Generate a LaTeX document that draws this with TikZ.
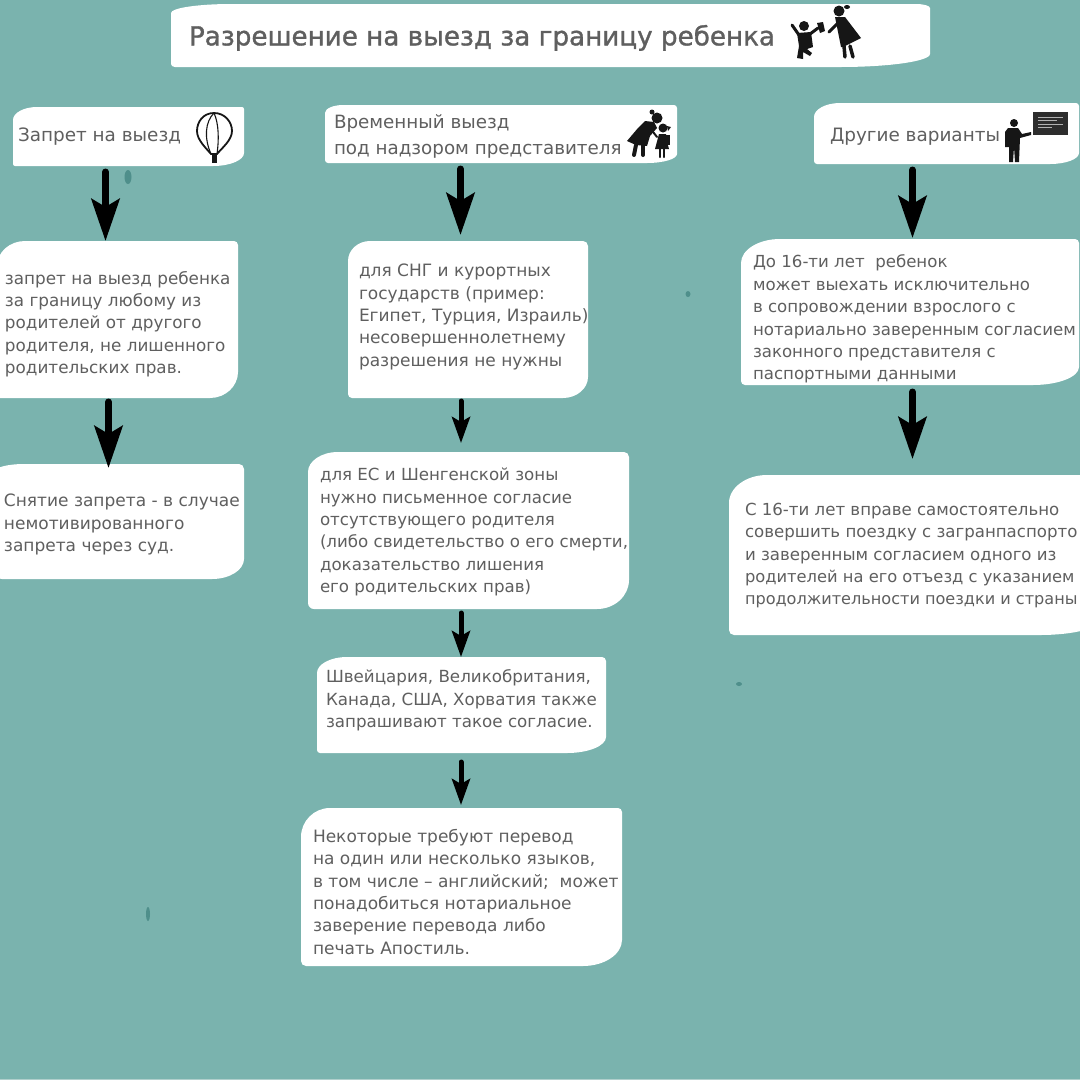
\documentclass[tikz,border=0pt]{standalone}
\usepackage{fontspec}
\setmainfont{DejaVu Sans}
\newfontfamily\titlefont[FakeBold=1.2]{DejaVu Sans}
\usetikzlibrary{arrows.meta}
\definecolor{bgteal}{HTML}{7AB3AE}
\definecolor{inktext}{HTML}{5F5F5F}
\definecolor{spotteal}{HTML}{4F8F8B}
\definecolor{iconink}{HTML}{161616}
\definecolor{edgestrip}{HTML}{B0CFCC}
\newcommand{\fsz}[1]{\fontsize{#1}{22.4}\selectfont}
\tikzset{
  x=1pt,y=-1pt,
  boxnode/.style={inner sep=0pt,outer sep=0pt,anchor=north west},
  txt/.style={inner sep=0pt,outer sep=0pt,anchor=north west,align=left,text=inktext,
     font=\fsz{16.8},yshift=12pt},
  hdr/.style={txt,font=\fontsize{18.4}{26}\selectfont},
  bigarr/.style={line width=7pt,line cap=round,-{Stealth[length=42pt,width=28pt,inset=8pt]}},
  smallarr/.style={line width=5pt,line cap=round,-{Stealth[length=26pt,width=18pt,inset=5pt]}},
  ico/.style={fill=iconink,draw=none},
  icoline/.style={draw=iconink,line cap=round,line join=round},
  spot/.style={fill=spotteal,draw=none},
}
% corner radii: tl rx,ry  tr rx,ry  br rx,ry  bl rx,ry
\newcommand{\setrad}[8]{\def\tlx{#1}\def\tly{#2}\def\trx{#3}\def\try{#4}\def\brx{#5}\def\bry{#6}\def\blx{#7}\def\bly{#8}}
% name, x0,y0,x1,y1
\newcommand{\whitebox}[5]{%
  \pgfmathsetmacro{\bw}{#4-#2}\pgfmathsetmacro{\bh}{#5-#3}%
  \fill[white] ({#2+\tlx},#3) -- ({#4-\trx},#3)
     .. controls ({#4-0.45*\trx},#3) and (#4,{#3+0.45*\try}) .. (#4,{#3+\try})
     -- (#4,{#5-\bry})
     .. controls (#4,{#5-0.45*\bry}) and ({#4-0.45*\brx},#5) .. ({#4-\brx},#5)
     -- ({#2+\blx},#5)
     .. controls ({#2+0.45*\blx},#5) and (#2,{#5-0.45*\bly}) .. (#2,{#5-\bly})
     -- (#2,{#3+\tly})
     .. controls (#2,{#3+0.45*\tly}) and ({#2+0.45*\tlx},#3) .. ({#2+\tlx},#3) -- cycle;%
  \node[boxnode,minimum width=\bw pt,minimum height=\bh pt] (#1) at (#2,#3) {};%
}
\newcommand{\strutT}{\rule{0pt}{12pt}}
\begin{document}
\begin{tikzpicture}
\useasboundingbox (0,0) rectangle (1080,1080);
\fill[bgteal] (0,0) rectangle (1080,1080);
\fill[edgestrip] (0,1078.5) rectangle (1080,1080);
% specks
\fill[spot] (128,177) ellipse [x radius=3.5pt,y radius=7pt];
\fill[spot] (148,914) ellipse [x radius=2pt,y radius=7pt];
\fill[spot] (688,294) ellipse [x radius=2.5pt,y radius=3pt];
\fill[spot] (739,684) ellipse [x radius=3pt,y radius=2pt];
% boxes
\setrad{60}{9}{14}{4}{90}{13}{4}{3}\whitebox{title}{171}{4}{930}{67}
\setrad{24}{13}{2}{2}{31}{13}{2}{2}\whitebox{a0}{13}{107}{244}{166}
\setrad{28}{25}{4}{4}{28}{26}{3}{3}\whitebox{a1}{-3}{241}{238}{398}
\setrad{30}{8}{5}{5}{32}{20}{8}{8}\whitebox{a2}{-6}{464}{244}{579}
\setrad{18}{8}{3}{3}{30}{9}{3}{3}\whitebox{b0}{325}{105}{677}{163}
\setrad{22}{20}{5}{5}{25}{21}{4}{4}\whitebox{b1}{348}{241}{588}{398}
\setrad{30}{20}{5}{5}{32}{29}{6}{6}\whitebox{b2}{308}{452}{629}{609}
\setrad{30}{16}{4}{4}{39}{16}{3}{3}\whitebox{b3}{317}{657}{606}{753}
\setrad{29}{29}{4}{4}{39}{26}{5}{5}\whitebox{b4}{301}{808}{622}{966}
\setrad{26}{14}{3}{3}{29}{11}{3}{3}\whitebox{c0}{814}{103}{1079}{164}
\setrad{39}{24}{4}{4}{46}{18}{4}{4}\whitebox{c1}{741}{239}{1079}{385}
\setrad{38}{28}{4}{4}{60}{15}{5}{5}\whitebox{c2}{729}{475}{1100}{635}
% texts
\node[txt,font=\titlefont\fontsize{26.2}{30}\selectfont,text=inktext] (titlet) at (189,37) {\strutT Разрешение на выезд за границу ребенка};
\node[hdr] (a0t) at (18,140) {\strutT Запрет на выезд};
\node[txt] (a1t) at (5,283) {\strutT запрет на выезд ребенка\\за границу любому из\\родителей от другого\\родителя, не лишенного\\родительских прав.};
\node[txt,font=\fsz{17}] (a2t) at (4,506) {\strutT Снятие запрета - в случае\\немотивированного\\запрета через суд.};
\node[hdr,font=\fontsize{18.3}{26}\selectfont] (b0t) at (334,127) {\strutT Временный выезд\\под надзором представителя};
\node[txt,font=\fsz{17}] (b1t) at (359,276) {\strutT для СНГ и курортных\\государств (пример:\\Египет, Турция, Израиль)\\несовершеннолетнему\\разрешения не нужны};
\node[txt,font=\fsz{16.65}] (b2t) at (320,480) {\strutT для ЕС и Шенгенской зоны\\нужно письменное согласие\\отсутствующего родителя\\(либо свидетельство о его смерти,\\доказательство лишения\\его родительских прав)};
\node[txt,font=\fsz{16.7}] (b3t) at (326,682) {\strutT Швейцария, Великобритания,\\Канада, США, Хорватия также\\запрашивают такое согласие.};
\node[txt,font=\fsz{17}] (b4t) at (313,841) {\strutT Некоторые требуют перевод\\на один или несколько языков,\\в том числе – английский;\ \ может\\понадобиться нотариальное\\заверение перевода либо\\печать Апостиль.};
\node[hdr] (c0t) at (830,140) {\strutT Другие варианты};
\node[txt,font=\fsz{16.6}] (c1t) at (753,267) {\strutT До 16-ти лет\ \ ребенок\\может выехать исключительно\\в сопровождении взрослого с\\нотариально заверенным согласием\\законного представителя с\\паспортными данными};
\node[txt,font=\fsz{16.6}] (c2t) at (745,515) {\strutT С 16-ти лет вправе самостоятельно\\совершить поездку с загранпаспорто\\и заверенным согласием одного из\\\fsz{16.3}родителей на его отъезд с указанием\\\fsz{16.1}продолжительности поездки и страны};
% arrows
\draw[bigarr] ([xshift=-23pt,yshift=-6pt]a0.south) -- ([xshift=-12pt]a1.north);
\draw[bigarr] ([xshift=-9pt,yshift=-4pt]a1.south) -- ([xshift=-10.5pt,yshift=-4pt]a2.north);
\draw[bigarr] ([xshift=-40.5pt,yshift=-6pt]b0.south) -- ([xshift=-7.5pt,yshift=6pt]b1.north);
\draw[smallarr] ([xshift=-7pt,yshift=-3pt]b1.south) -- ([xshift=-7.5pt,yshift=9pt]b2.north);
\draw[smallarr] ([xshift=-7.5pt,yshift=-4pt]b2.south) -- ([xshift=-0.5pt]b3.north);
\draw[smallarr] ([xshift=-0.5pt,yshift=-9pt]b3.south) -- ([xshift=-0.5pt,yshift=3pt]b4.north);
\draw[bigarr] ([xshift=-34pt,yshift=-6pt]c0.south) -- ([xshift=2.5pt,yshift=1pt]c1.north);
\draw[bigarr] ([xshift=2.5pt,yshift=-7pt]c1.south) -- ([xshift=-2pt,yshift=16pt]c2.north);
% balloon icon
\filldraw[icoline,fill=white,line width=1.8pt] (214,113) .. controls (203,113) and (197,122) .. (197,131) .. controls (197,140) and (206,148) .. (211,154) -- (217,154) .. controls (222,148) and (232,140) .. (232,131) .. controls (232,122) and (225,113) .. (214,113) -- cycle;
\draw[icoline,line width=1.1pt] (214,113) .. controls (205,122) and (204,138) .. (211,154);
\draw[icoline,line width=1.1pt] (214,113) .. controls (219,124) and (219,140) .. (217,154);
\fill[ico] (212,155) rectangle (217,163);
% title icon: child and woman
\fill[ico] (804,26) circle (5pt);
\fill[ico] (797,33) -- (811,32) -- (813,47) -- (807,49) -- (812,53) -- (810,56) -- (803,52) -- (803,59) -- (797,58) -- (799,46) -- cycle;
\draw[icoline,line width=3pt] (799,35) -- (792,25);
\draw[icoline,line width=3pt] (810,34) -- (818,28);
\fill[ico] (817,23) -- (823,22) -- (825,31) -- (820,33) -- cycle;
\fill[ico] (839,11) circle (5.5pt);
\fill[ico] (847,7) ellipse [x radius=3pt,y radius=2pt];
\fill[ico] (835,17) -- (845,17) -- (861,38) -- (843,47) -- (841,47) -- cycle;
\draw[icoline,line width=3pt] (838,23) -- (829,32);
\draw[icoline,line width=3.5pt] (844,46) -- (845,57);
\draw[icoline,line width=3.5pt] (850,46) -- (853,57);
% bending woman and girl icon
\fill[ico] (657,118) circle (5.5pt);
\fill[ico] (652,112) circle (2.5pt);
\fill[ico] (654,122) -- (645,121) -- (638,128) -- (627,141) -- (636,145) -- (647,146) -- (650,136) -- (657,128) -- cycle;
\draw[icoline,line width=4pt] (636,145) -- (634,155);
\draw[icoline,line width=4pt] (643,145) -- (643,155);
\draw[icoline,line width=2pt] (650,128) -- (657,137);
\fill[ico] (663,128) circle (4.5pt);
\fill[ico] (667,126) -- (671,127) -- (668,131) -- cycle;
\fill[ico] (659,134) -- (666,134) -- (666,138) -- (669,149) -- (655,149) -- cycle;
\fill[ico] (665,135) rectangle (670,145);
\draw[icoline,line width=2.2pt] (660,149) -- (660,157);
\draw[icoline,line width=2.2pt] (664,149) -- (664,157);
% teacher icon
\fill[ico] (1014,123) circle (4pt);
\fill[ico] (1008,128) -- (1018,128) -- (1022,134) -- (1031,132) -- (1031,135) -- (1020,138) -- (1019,162) -- (1015,162) -- (1014,147) -- (1013,162) -- (1009,162) -- (1009,147) -- (1005,147) -- (1005,132) -- cycle;
\fill[iconink!90!white] (1033,112) rectangle (1068,135);
\draw[gray!60,line width=0.8pt] (1038,117) -- (1063,117) (1038,120) -- (1057,120) (1038,124) -- (1063,124) (1038,127) -- (1052,127);
\end{tikzpicture}
\end{document}
